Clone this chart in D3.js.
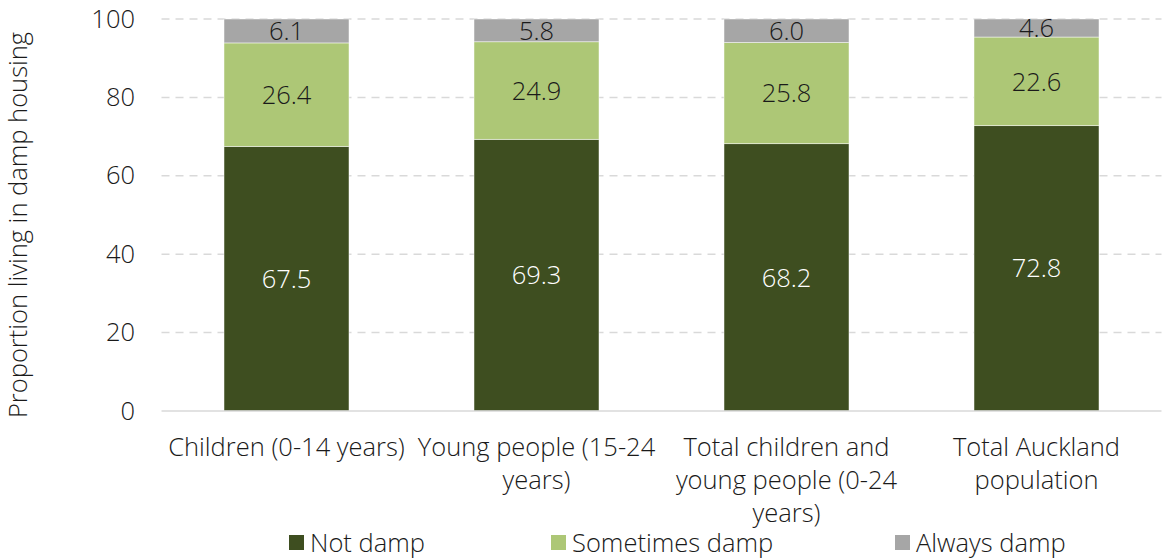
<!DOCTYPE html>
<html>
<head>
<meta charset="utf-8">
<script src="https://cdn.jsdelivr.net/npm/d3@7"></script>
<style>
  html, body { margin: 0; padding: 0; background: #fff; }
  svg text { font-family: "Open Sans", Lato, sans-serif; font-weight: 300; }
</style>
</head>
<body>
<svg id="chart" width="1165" height="558"></svg>
<script>
const categories = [
  ["Children (0-14 years)"],
  ["Young people (15-24", "years)"],
  ["Total children and", "young people (0-24", "years)"],
  ["Total Auckland", "population"]
];
const seriesNames = ["Not damp", "Sometimes damp", "Always damp"];
const notDamp = [67.5, 69.3, 68.2, 72.8];
const sometimesDamp = [26.4, 24.9, 25.8, 22.6];
const alwaysDamp = [6.1, 5.8, 6.0, 4.6];
const yTicks = [0, 20, 40, 60, 80, 100];

const colors = ["#3e4e20", "#adc776", "#a6a6a6"];
const labelColors = ["#ffffff", "#1a1a1a", "#1a1a1a"];
const FS = 25.5;

const svg = d3.select("#chart");
const margin = { left: 161.5, right: 3.5, top: 19, bottom: 147 };
const W = 1165, H = 558;

const x = d3.scaleBand()
  .domain(d3.range(categories.length))
  .range([margin.left, W - margin.right])
  .paddingInner(0.5)
  .paddingOuter(0.25);

const y = d3.scaleLinear().domain([0, 100]).range([H - margin.bottom, margin.top]);

// gridlines
svg.append("g").selectAll("line")
  .data(yTicks.filter(d => d > 0))
  .join("line")
  .attr("x1", margin.left).attr("x2", W - margin.right)
  .attr("y1", d => y(d)).attr("y2", d => y(d))
  .attr("stroke", "#d9d9d9").attr("stroke-width", 1.5)
  .attr("stroke-dasharray", "8,6");

// y tick labels
const yAxis = d3.axisLeft(y).tickValues(yTicks).tickSize(0).tickPadding(0);
const ya = svg.append("g").attr("transform", `translate(${135},0)`).call(yAxis);
ya.select(".domain").remove();
ya.selectAll("text")
  .attr("font-size", FS).attr("fill", "#1a1a1a")
  .style("font-family", "'Open Sans', sans-serif")
  .style("font-weight", 300);

// stacked data
const rows = categories.map((c, i) => ({
  i, "Not damp": notDamp[i], "Sometimes damp": sometimesDamp[i], "Always damp": alwaysDamp[i]
}));
const stack = d3.stack().keys(seriesNames)(rows);

const layers = svg.append("g").selectAll("g")
  .data(stack).join("g")
  .attr("fill", (d, k) => colors[k]);

layers.selectAll("rect")
  .data(d => d).join("rect")
  .attr("x", d => x(d.data.i))
  .attr("width", x.bandwidth())
  .attr("y", d => y(d[1]))
  .attr("height", d => y(d[0]) - y(d[1]))
  .attr("stroke", "#ffffff").attr("stroke-opacity", 0.6).attr("stroke-width", 0.8);

// value labels
stack.forEach((layer, k) => {
  svg.append("g").selectAll("text")
    .data(layer).join("text")
    .attr("x", d => x(d.data.i) + x.bandwidth() / 2)
    .attr("y", d => (y(d[0]) + y(d[1])) / 2)
    .attr("dy", "0.36em")
    .attr("text-anchor", "middle")
    .attr("font-size", FS)
    .attr("fill", labelColors[k])
    .text(d => (d[1] - d[0]).toFixed(1));
});

// baseline
svg.append("line")
  .attr("x1", margin.left).attr("x2", W - margin.right)
  .attr("y1", y(0)).attr("y2", y(0))
  .attr("stroke", "#d9d9d9").attr("stroke-width", 1.5);

// category labels
const cat = svg.append("g").selectAll("text")
  .data(categories).join("text")
  .attr("text-anchor", "middle")
  .attr("font-size", FS)
  .attr("fill", "#1a1a1a");
cat.each(function(lines, i) {
  d3.select(this).selectAll("tspan")
    .data(lines).join("tspan")
    .attr("x", x(i) + x.bandwidth() / 2)
    .attr("y", (d, j) => 456 + j * 33)
    .text(d => d);
});

// y axis title
svg.append("text")
  .attr("transform", `translate(27,${(y(0) + y(100)) / 2 + 10}) rotate(-90)`)
  .attr("text-anchor", "middle")
  .attr("font-size", FS)
  .attr("fill", "#1a1a1a")
  .text("Proportion living in damp housing");

// legend
const legendX = [289, 551, 895];
const lg = svg.append("g").selectAll("g")
  .data(seriesNames).join("g")
  .attr("transform", (d, k) => `translate(${legendX[k]},535)`);
lg.append("rect").attr("width", 15).attr("height", 15).attr("fill", (d, k) => colors[k]);
lg.append("text").attr("x", 21).attr("y", 7.5).attr("dy", "0.36em")
  .attr("font-size", FS).attr("fill", "#1a1a1a").text(d => d);
</script>
</body>
</html>
